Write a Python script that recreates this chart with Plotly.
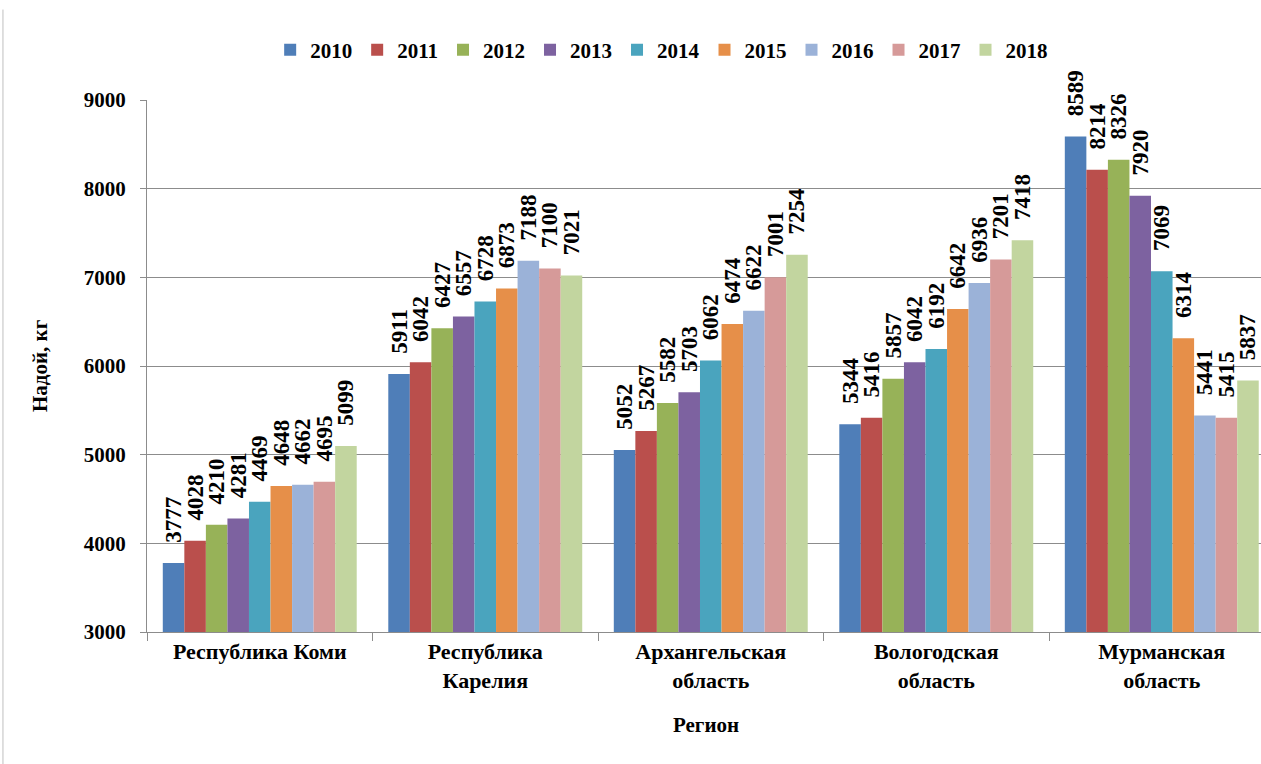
import plotly.graph_objects as go

regions = ["Республика Коми", "Республика<br>Карелия", "Архангельская<br>область",
           "Вологодская<br>область", "Мурманская<br>область"]
years = ["2010", "2011", "2012", "2013", "2014", "2015", "2016", "2017", "2018"]
values = {
    "2010": [3777, 5911, 5052, 5344, 8589],
    "2011": [4028, 6042, 5267, 5416, 8214],
    "2012": [4210, 6427, 5582, 5857, 8326],
    "2013": [4281, 6557, 5703, 6042, 7920],
    "2014": [4469, 6728, 6062, 6192, 7069],
    "2015": [4648, 6873, 6474, 6642, 6314],
    "2016": [4662, 7188, 6622, 6936, 5441],
    "2017": [4695, 7100, 7001, 7201, 5415],
    "2018": [5099, 7021, 7254, 7418, 5837],
}
colors = ["#4F7EB8", "#BA4F4C", "#97B258", "#7D62A0", "#4AA4BE",
          "#E68F49", "#9BB2D8", "#D69A99", "#C2D59F"]

FONT = "Liberation Serif"

fig = go.Figure()
for y, c in zip(years, colors):
    fig.add_trace(go.Bar(
        name="<b>" + y + "</b>", x=regions, y=values[y],
        marker=dict(color=c, line=dict(width=0)),
        text=["&nbsp;&nbsp;&nbsp;<b>" + str(v) + "</b>" for v in values[y]],
        textposition="outside", textangle=-90, constraintext="none",
        textfont=dict(family=FONT, size=23, color="black"),
        cliponaxis=False,
    ))

fig.update_layout(
    width=1261, height=764,
    margin=dict(l=147, r=0, t=100, b=132, autoexpand=False),
    paper_bgcolor="white", plot_bgcolor="white",
    barmode="group", bargap=0.14, bargroupgap=0,
    font=dict(family=FONT, color="black"),
    legend=dict(orientation="h", x=0.462, xanchor="center", y=1.094, yanchor="middle",
                font=dict(family=FONT, size=21, color="black"),
                traceorder="normal", itemwidth=30, tracegroupgap=0),
    showlegend=True,
)
fig.update_xaxes(
    range=[-0.5, 4.44], showline=True, linecolor="#8C8C8C", linewidth=1,
    ticks="outside", tickson="boundaries", ticklen=8, tickcolor="#8C8C8C",
    tickfont=dict(family=FONT, size=22, color="black"),
    ticktext=["<b>" + r + "</b>" for r in regions], tickvals=regions,
    showgrid=False,
)
fig.update_yaxes(
    range=[3000, 9000], dtick=1000, showline=True, linecolor="#8C8C8C", linewidth=1,
    ticks="outside", ticklen=6, tickcolor="#8C8C8C",
    showgrid=True, gridcolor="#8C8C8C", gridwidth=1,
    tickfont=dict(family=FONT, size=21, color="black"),
    tickprefix="<b>", ticksuffix="</b>", ticklabelstandoff=10,
    zeroline=False,
)
fig.add_annotation(text="<b>Регион</b>", xref="paper", yref="paper",
                   x=(706 - 147) / 1114, y=(632 - 725) / 532,
                   xanchor="center", yanchor="middle", showarrow=False,
                   font=dict(family=FONT, size=21, color="black"))
fig.add_annotation(text="<b>Надой, кг</b>", xref="paper", yref="paper",
                   x=(40 - 147) / 1114, y=(632 - 366) / 532, textangle=-90,
                   xanchor="center", yanchor="middle", showarrow=False,
                   font=dict(family=FONT, size=21, color="black"))
fig.add_shape(type="line", xref="paper", yref="paper",
              x0=-0.1293, x1=-0.1293, y0=-0.25, y1=1.17,
              line=dict(color="#BFBFBF", width=1))

fig.write_html("out.html", post_script="document.body.style.margin='0';",
               config={"displayModeBar": False})
